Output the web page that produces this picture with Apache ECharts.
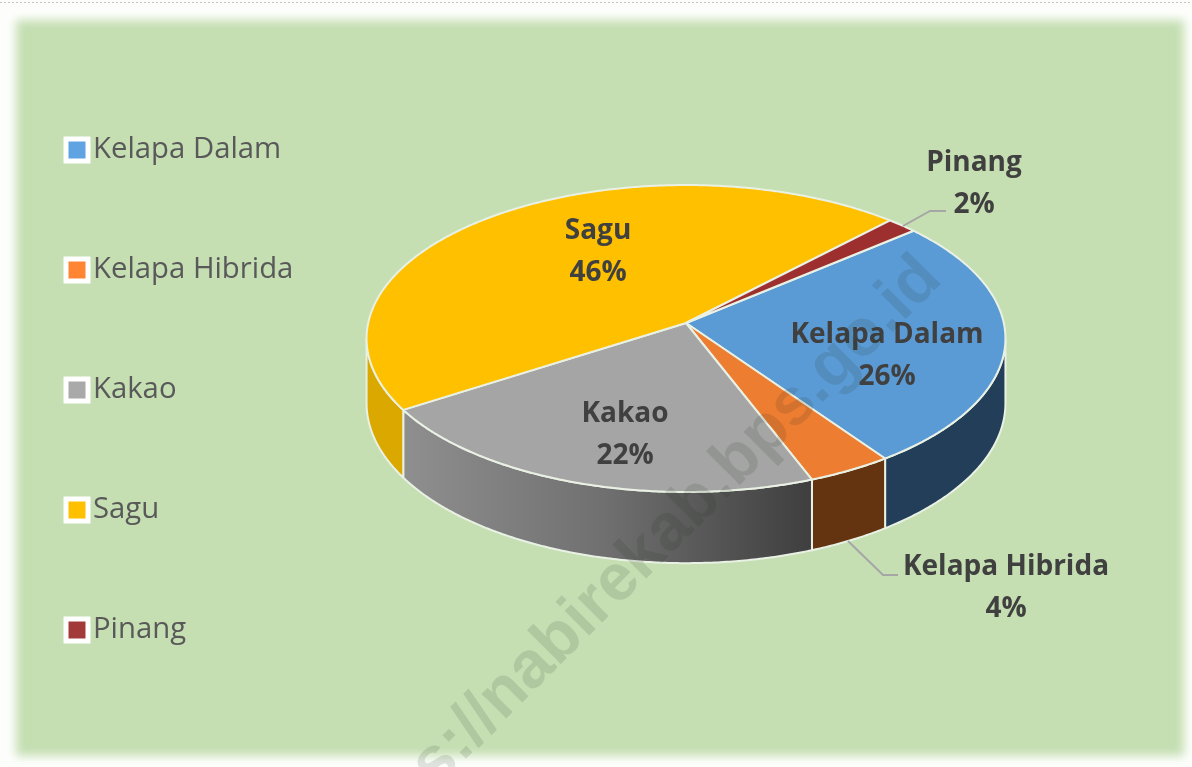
<!DOCTYPE html>
<html><head><meta charset="utf-8">
<style>html,body{margin:0;padding:0;background:#fff}#c{width:1192px;height:767px}</style>
<script src="https://cdn.jsdelivr.net/npm/echarts@6/dist/echarts.min.js"></script>
</head><body><div id="c"></div>
<script>
// ---- data ----
const categories = ['Kelapa Dalam', 'Kelapa Hibrida', 'Kakao', 'Sagu', 'Pinang'];
const shares = [26.45, 3.9, 21.75, 46.2, 1.7];

// ---- styles ----
const topColors = ['#5b9bd5', '#ed7d31', '#a5a5a5', '#ffc000', '#9e2f2f'];
const legendColors = ['#5fa3e3', '#ff8533', '#a9a9a9', '#ffc000', '#a33a3a'];
const FONT = '"Open Sans","Noto Sans",sans-serif';
const chart = echarts.init(document.getElementById('c'), null, {renderer: 'canvas'});
const sideColors = [
  '#223e58', '#63340f',
  new echarts.graphic.LinearGradient(0, 0, 1, 0, [
    {offset: 0, color: '#8f8f8f'}, {offset: 0.5, color: '#6f6f6f'}, {offset: 1, color: '#3e3e3e'}]),
  '#dba800', '#6b1f1f'];

// ---- perspective disc: unit circle projected to the screen ----
const disc = {cx: 686, cy: 323, a: 317.8, b: 151.9, k: 0.101, h: 64, start: -40.3};
const EDGE = '#e9f1e4';
function rim(deg, drop) {
  const t = deg * Math.PI / 180, u = Math.cos(t), v = Math.sin(t), w = 1 - disc.k * v;
  return [disc.cx + disc.a * u / w, disc.cy + disc.b * v / w + (drop ? disc.h / w : 0)];
}
function arc(from, to, drop) {
  const pts = [], n = Math.max(2, Math.ceil(Math.abs(to - from) * 2));
  for (let i = 0; i <= n; i++) pts.push(rim(from + (to - from) * i / n, drop));
  return pts;
}
const total = shares.reduce((s, x) => s + x, 0);
function sliceStart(i) {
  let s = 0; for (let j = 0; j < i; j++) s += shares[j];
  return disc.start + s / total * 360;
}

// ---- label placement, separate from the data ----
const labelAnchors = [[887, 356], [1006, 588], [625, 435], [598, 252], [974, 184]];
const leaders = {1: [[848, 541], [883, 575], [898, 575]], 4: [[903, 226], [930, 211], [946, 211]]};

function makeRender(i) {
  return function (params, api) {
    const val = api.value(0);
    const a0 = sliceStart(i), a1 = a0 + val / total * 360;
    const children = [];
    const lo = Math.max(a0, 5.8), hi = Math.min(a1, 174.2);
    if (hi > lo) {
      children.push({
        type: 'polygon', z2: 1,
        shape: {points: arc(lo, hi, false).concat(arc(hi, lo, true))},
        style: {fill: sideColors[i], stroke: EDGE, lineWidth: 2, lineJoin: 'round'}
      });
    }
    children.push({
      type: 'polygon', z2: 2,
      shape: {points: [[disc.cx, disc.cy]].concat(arc(a0, a1, false))},
      style: {fill: topColors[i], stroke: EDGE, lineWidth: 2, lineJoin: 'round'}
    });
    if (leaders[i]) {
      children.push({
        type: 'polyline', z2: 3, shape: {points: leaders[i]},
        style: {fill: null, stroke: '#a6a6a6', lineWidth: 2}
      });
    }
    children.push({
      type: 'text', z2: 5,
      style: {
        x: labelAnchors[i][0], y: labelAnchors[i][1],
        text: categories[i] + '\n' + Math.round(val) + '%',
        fill: '#404040', font: 'bold 28px ' + FONT, lineHeight: 42,
        align: 'center', verticalAlign: 'middle'
      }
    });
    return {type: 'group', children};
  };
}

chart.setOption({
  animation: false,
  backgroundColor: '#fdfefc',
  graphic: [
    // only the blurred shadow of this off-canvas rectangle shows: a panel with soft edges
    {type: 'rect', z: -10, silent: true, shape: {x: 16 - 3000, y: 20, width: 1168, height: 736},
     style: {fill: '#c5dfb3', shadowColor: '#c5dfb3', shadowBlur: 9, shadowOffsetX: 3000}},
    {type: 'line', z: -9, silent: true, shape: {x1: 0, y1: 2.5, x2: 1192, y2: 2.5},
     style: {stroke: '#c4c4c4', lineWidth: 1, lineDash: [2, 2]}},
    {type: 'text', z: 20, silent: true, x: 931, y: 268, rotation: Math.PI / 4,
     style: {text: 'https://nabirekab.bps.go.id', font: 'bold 66px "Liberation Sans",sans-serif',
       fill: 'rgba(30,50,30,0.13)', align: 'right', verticalAlign: 'middle'}}
  ],
  legend: {
    orient: 'vertical', left: 58.5, top: 130,
    itemWidth: 22, itemHeight: 22, itemGap: 90,
    selectedMode: false, icon: 'rect',
    textStyle: {fontFamily: FONT, fontSize: 29.3, color: '#595959', lineHeight: 30, height: 30},
    data: categories.map((name, i) => ({
      name, icon: 'rect',
      itemStyle: {color: legendColors[i], borderColor: '#ffffff', borderWidth: 5}
    }))
  },
  series: categories.map((name, i) => ({
    type: 'custom', name, coordinateSystem: 'none', silent: true,
    renderItem: makeRender(i),
    data: [{name, value: [shares[i]]}]
  }))
});
</script></body></html>
